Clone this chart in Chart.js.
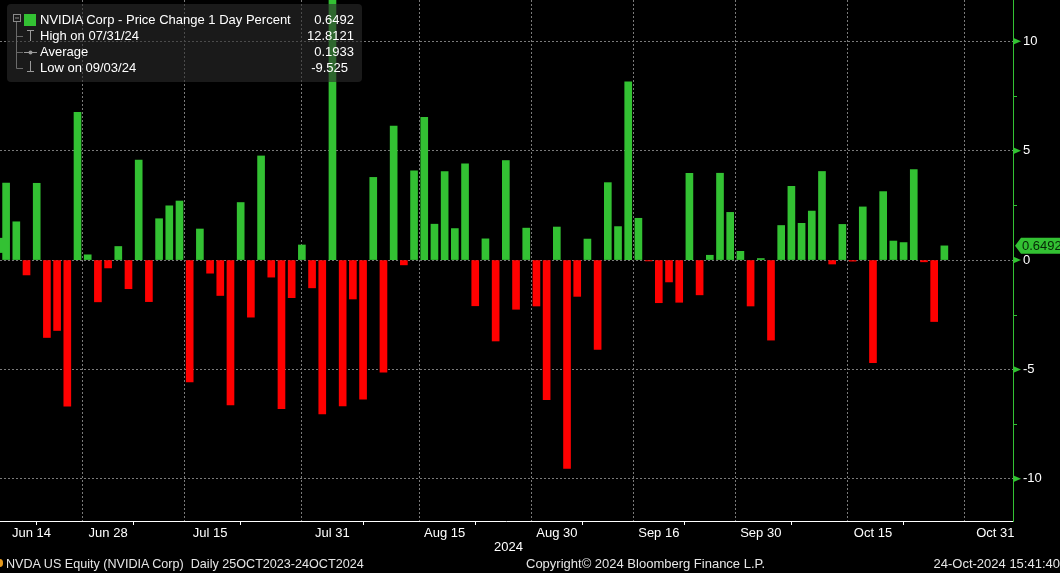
<!DOCTYPE html>
<html>
<head>
<meta charset="utf-8">
<title>NVDA Price Change 1 Day Percent</title>
<script src="https://cdn.jsdelivr.net/npm/chart.js@4.4.1/dist/chart.umd.min.js"></script>
<style>
  html, body { margin: 0; padding: 0; background: #000; }
  #wrap { position: relative; width: 1060px; height: 573px; overflow: hidden; font-family: 'Liberation Sans', Arial, sans-serif; color: #fff; }
  #chart { position: absolute; left: 0; top: 0; }
  .box { position: absolute; left: 7px; top: 4px; width: 355px; height: 78px; background: rgba(44,44,44,0.6); border-radius: 4px; }
  .t { position: absolute; font-size: 13px; line-height: 16px; white-space: nowrap; }
  .r { text-align: right; }
  .foot { color: #e6e6e6; }
  svg.icons { position: absolute; left: 0; top: 0; }
</style>
</head>
<body>
<div id="wrap">
  <canvas id="chart" width="1060" height="573"></canvas>

  <div class="box"></div>
  <svg class="icons" width="45" height="85">
    <rect x="13.5" y="14.5" width="7" height="7" fill="none" stroke="#8a8a8a"/>
    <line x1="15" y1="18" x2="19" y2="18" stroke="#8a8a8a"/>
    <line x1="16.5" y1="22" x2="16.5" y2="68.5" stroke="#6a6a6a"/>
    <line x1="16.5" y1="36.5" x2="23" y2="36.5" stroke="#6a6a6a"/>
    <line x1="16.5" y1="52.5" x2="23" y2="52.5" stroke="#6a6a6a"/>
    <line x1="16.5" y1="68.5" x2="23" y2="68.5" stroke="#6a6a6a"/>
    <line x1="27" y1="30.5" x2="34" y2="30.5" stroke="#9a9a9a"/>
    <line x1="30.5" y1="30.5" x2="30.5" y2="41" stroke="#9a9a9a"/>
    <line x1="24" y1="52.5" x2="37" y2="52.5" stroke="#9a9a9a"/>
    <circle cx="30.5" cy="52.5" r="2" fill="#9a9a9a"/>
    <line x1="30.5" y1="61" x2="30.5" y2="71.5" stroke="#9a9a9a"/>
    <line x1="27" y1="71.5" x2="34" y2="71.5" stroke="#9a9a9a"/>
    <rect x="24" y="14" width="12" height="12" fill="#33c133"/>
  </svg>
  <div class="t" style="left:40px; top:12px;">NVIDIA Corp - Price Change 1 Day Percent</div>
  <div class="t r" style="right:706px; top:12px;">0.6492</div>
  <div class="t" style="left:40px; top:28px;">High on 07/31/24</div>
  <div class="t r" style="right:706px; top:28px;">12.8121</div>
  <div class="t" style="left:40px; top:44px;">Average</div>
  <div class="t r" style="right:706px; top:44px;">0.1933</div>
  <div class="t" style="left:40px; top:60px;">Low on 09/03/24</div>
  <div class="t r" style="right:712px; top:60px;">-9.525</div>

  <div class="t" id="firstTick" style="left:12px; top:525px;"></div>
  <div class="t" style="left:494px; top:539px;">2024</div>
  <div style="position:absolute; left:-4px; top:559px; width:7px; height:8px; border-radius:4px; background:#e69a1e;"></div>
  <div class="t foot" style="left:6px; top:556px; font-size:12.6px;">NVDA US Equity (NVIDIA Corp)&nbsp;&nbsp;Daily 25OCT2023-24OCT2024</div>
  <div class="t foot" style="left:526px; top:556px;">Copyright© 2024 Bloomberg Finance L.P.</div>
  <div class="t foot" style="right:0px; top:556px;">24-Oct-2024 15:41:40</div>
</div>

<script>
// trading days shown on the axis (Jun 13 .. Oct 31, 2024)
const days = [
  'Jun 13','Jun 14','Jun 17','Jun 18','Jun 20','Jun 21','Jun 24','Jun 25','Jun 26','Jun 27','Jun 28',
  'Jul 1','Jul 2','Jul 3','Jul 5','Jul 8','Jul 9','Jul 10','Jul 11','Jul 12','Jul 15','Jul 16','Jul 17',
  'Jul 18','Jul 19','Jul 22','Jul 23','Jul 24','Jul 25','Jul 26','Jul 29','Jul 30','Jul 31',
  'Aug 1','Aug 2','Aug 5','Aug 6','Aug 7','Aug 8','Aug 9','Aug 12','Aug 13','Aug 14','Aug 15','Aug 16',
  'Aug 19','Aug 20','Aug 21','Aug 22','Aug 23','Aug 26','Aug 27','Aug 28','Aug 29','Aug 30',
  'Sep 3','Sep 4','Sep 5','Sep 6','Sep 9','Sep 10','Sep 11','Sep 12','Sep 13','Sep 16','Sep 17','Sep 18',
  'Sep 19','Sep 20','Sep 23','Sep 24','Sep 25','Sep 26','Sep 27','Sep 30',
  'Oct 1','Oct 2','Oct 3','Oct 4','Oct 7','Oct 8','Oct 9','Oct 10','Oct 11','Oct 14','Oct 15','Oct 16',
  'Oct 17','Oct 18','Oct 21','Oct 22','Oct 23','Oct 24','Oct 25','Oct 28','Oct 29','Oct 30','Oct 31'
];

// daily % change, Jun 13 .. Oct 24
const changes = [
  3.52, 1.75, -0.68, 3.51, -3.54, -3.22, -6.68, 6.76, 0.24, -1.91, -0.36,
  0.62, -1.31, 4.57, -1.90, 1.89, 2.48, 2.70, -5.57, 1.42, -0.60, -1.62, -6.62,
  2.63, -2.61, 4.76, -0.78, -6.80, -1.72, 0.69, -1.27, -7.04, 12.81,
  -6.67, -1.78, -6.36, 3.78, -5.12, 6.12, -0.22, 4.08, 6.53, 1.64, 4.05, 1.44,
  4.40, -2.09, 0.97, -3.70, 4.55, -2.25, 1.46, -2.10, -6.38, 1.51,
  -9.53, -1.66, 0.96, -4.09, 3.54, 1.53, 8.15, 1.91, -0.04, -1.95, -1.00, -1.93,
  3.97, -1.59, 0.22, 3.97, 2.18, 0.40, -2.10, 0.07,
  -3.66, 1.58, 3.37, 1.68, 2.24, 4.05, -0.18, 1.63, -0.05, 2.43, -4.69, 3.13,
  0.87, 0.80, 4.14, -0.08, -2.81, 0.6492
];

const majorLabels = ['Jun 14','Jun 28','Jul 15','Jul 31','Aug 15','Aug 30','Sep 16','Sep 30','Oct 15','Oct 31'];
const minorLabels = ['Jun 21','Jul 8','Jul 23','Aug 8','Aug 23','Sep 9','Sep 23','Oct 8','Oct 23'];
const yMajor = [-10, -5, 0, 5, 10];
const yMinor = [-7.5, -2.5, 2.5, 7.5];

const GREEN = '#33c133';
const RED = '#ff0000';
const GRID = '#7a7a7a';
const CLEAR = 'rgba(0,0,0,0)';

const majorIdx = new Set(majorLabels.map(d => days.indexOf(d)));
const minorIdx = new Set(minorLabels.map(d => days.indexOf(d)));
const firstIdx = days.indexOf(majorLabels[0]);
const lastValue = changes[changes.length - 1];

// the first label sits right of its grid line so it is not cut off at the edge
document.getElementById('firstTick').textContent = majorLabels[0];

Chart.defaults.font.family = "'Liberation Sans', Arial, sans-serif";
Chart.defaults.font.size = 13;
Chart.defaults.color = '#ffffff';

// axis lines, right-axis markers and last-value tag
const bbgAxes = {
  id: 'bbgAxes',
  afterDraw(chart) {
    const { ctx, chartArea: a } = chart;
    const y = chart.scales.y;
    ctx.save();
    ctx.lineWidth = 1;
    ctx.strokeStyle = '#ffffff';
    ctx.beginPath(); ctx.moveTo(a.left, a.bottom + 0.5); ctx.lineTo(a.right, a.bottom + 0.5); ctx.stroke();
    ctx.strokeStyle = GREEN;
    ctx.beginPath(); ctx.moveTo(a.right + 0.5, a.top); ctx.lineTo(a.right + 0.5, a.bottom + 1); ctx.stroke();

    yMinor.forEach(v => {
      const py = Math.round(y.getPixelForValue(v)) + 0.5;
      ctx.beginPath(); ctx.moveTo(a.right, py); ctx.lineTo(a.right + 4, py); ctx.stroke();
    });
    ctx.fillStyle = GREEN;
    yMajor.forEach(v => {
      const py = y.getPixelForValue(v);
      ctx.beginPath(); ctx.moveTo(a.right, py - 3.5); ctx.lineTo(a.right + 8, py); ctx.lineTo(a.right, py + 3.5); ctx.closePath(); ctx.fill();
    });

    const ly = y.getPixelForValue(lastValue);
    ctx.beginPath();
    ctx.moveTo(a.right + 2, ly);
    ctx.lineTo(a.right + 8, ly - 8);
    ctx.lineTo(chart.width, ly - 8);
    ctx.lineTo(chart.width, ly + 8);
    ctx.lineTo(a.right + 8, ly + 8);
    ctx.closePath();
    ctx.fill();
    ctx.fillRect(0, ly - 8, 3, 15);
    ctx.fillStyle = '#062806';
    ctx.font = "13px 'Liberation Sans', Arial, sans-serif";
    ctx.textBaseline = 'middle';
    ctx.textAlign = 'left';
    ctx.fillText(lastValue.toFixed(4), a.right + 9, ly + 0.5);
    ctx.restore();
  }
};

new Chart(document.getElementById('chart').getContext('2d'), {
  type: 'bar',
  data: {
    datasets: [{
      label: 'NVIDIA Corp - Price Change 1 Day Percent',
      data: changes.map((v, i) => ({ x: i, y: v })),
      backgroundColor: ctx => (ctx.raw && ctx.raw.y < 0 ? RED : GREEN),
      borderWidth: 0,
      barThickness: 7
    }]
  },
  options: {
    responsive: false,
    animation: false,
    layout: { padding: 0 },
    plugins: { legend: { display: false }, tooltip: { enabled: false } },
    scales: {
      x: {
        type: 'linear',
        offset: false,
        min: -0.6,
        max: 98.73,
        afterBuildTicks: s => {
          s.ticks = [...majorIdx, ...minorIdx].sort((p, q) => p - q).map(v => ({ value: v }));
        },
        afterFit: s => { s.height = 52; s.paddingLeft = 0; s.paddingRight = 0; s.paddingTop = 0; s.paddingBottom = 0; },
        ticks: {
          autoSkip: false,
          maxRotation: 0,
          padding: 1,
          color: '#ffffff',
          callback: v => (majorIdx.has(v) && v !== firstIdx ? days[v] : '')
        },
        grid: {
          color: c => (c.tick && majorIdx.has(c.tick.value) ? GRID : CLEAR),
          tickColor: c => (c.tick && minorIdx.has(c.tick.value) ? '#ffffff' : CLEAR),
          tickLength: 4,
          lineWidth: 1
        },
        border: { display: false, dash: [2, 2] }
      },
      y: {
        type: 'linear',
        position: 'right',
        min: -11.93,
        max: 11.89,
        afterBuildTicks: s => {
          s.ticks = [...yMajor, ...yMinor].sort((p, q) => p - q).map(v => ({ value: v }));
        },
        afterFit: s => { s.width = 47; s.paddingLeft = 0; s.paddingRight = 0; s.paddingTop = 0; s.paddingBottom = 0; },
        ticks: {
          padding: 10,
          color: '#ffffff',
          callback: v => (yMajor.includes(v) ? String(v) : '')
        },
        grid: {
          color: c => (c.tick && yMajor.includes(c.tick.value) ? GRID : CLEAR),
          drawTicks: false,
          lineWidth: 1
        },
        border: { display: false, dash: [2, 2] }
      }
    }
  },
  plugins: [bbgAxes]
});
</script>
</body>
</html>
